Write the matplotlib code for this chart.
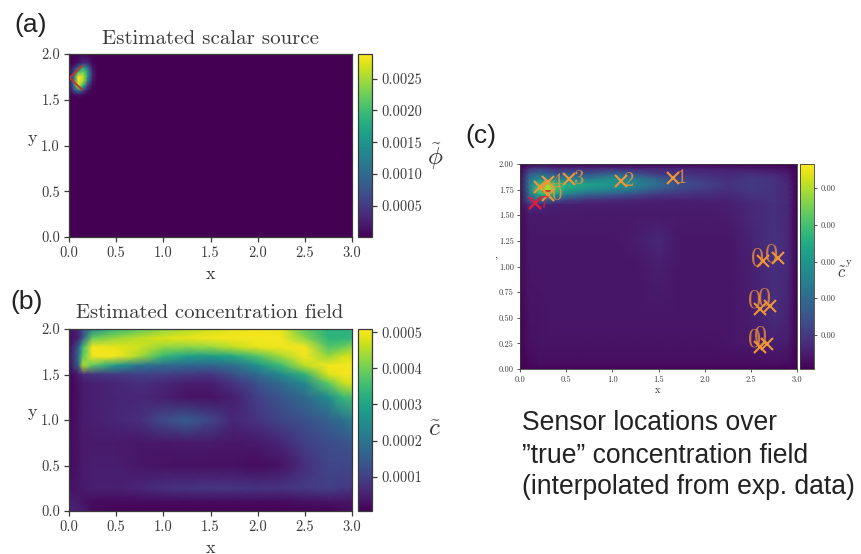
"""Three panel figure: estimated source, estimated field, sensor locations"""
import matplotlib
matplotlib.use('Agg')
import matplotlib.pyplot as plt
import numpy as np
from matplotlib.ticker import FixedLocator, FixedFormatter

plt.rcParams['font.family'] = ['cmr10', 'DejaVu Serif']
plt.rcParams['mathtext.fontset'] = 'cm'
plt.rcParams['axes.formatter.use_mathtext'] = True
plt.rcParams['axes.unicode_minus'] = False

W, H = 861, 554
INK = '#3a3a3a'
ORANGE = '#ee9638'

# panel (a): source, units of 1e-3
source_x = [0, 0.05, 0.1, 0.15, 0.2, 0.25, 0.3, 3.0]
source_y = [2.0, 1.9, 1.85, 1.8, 1.75, 1.7, 1.65, 1.6, 1.55, 1.5, 0.0]
source_vals = [
    [0.005, 0.005, 0.005, 0.005, 0.005, 0.005, 0.005, 0.005],
    [0.03, 0.05, 0.15, 0.35, 0.3, 0.05, 0.005, 0.005],
    [0.05, 0.25, 1.0, 1.7, 1.0, 0.15, 0.005, 0.005],
    [0.08, 0.6, 2.0, 2.3, 1.5, 0.25, 0.005, 0.005],
    [0.1, 1.0, 2.85, 2.6, 1.5, 0.25, 0.005, 0.005],
    [0.1, 1.1, 2.85, 2.5, 1.1, 0.15, 0.005, 0.005],
    [0.07, 1.0, 2.6, 1.8, 0.5, 0.07, 0.005, 0.005],
    [0.03, 0.55, 1.2, 0.6, 0.15, 0.005, 0.005, 0.005],
    [0.005, 0.07, 0.15, 0.07, 0.005, 0.005, 0.005, 0.005],
    [0.005, 0.005, 0.005, 0.005, 0.005, 0.005, 0.005, 0.005],
    [0.005, 0.005, 0.005, 0.005, 0.005, 0.005, 0.005, 0.005],
]
source_edge_x = [0.14, 0.007, 0.14]
source_edge_y = [1.87, 1.74, 1.61]

# panel (b): estimated concentration, units of 1e-4
field_x = [0, 0.1, 0.15, 0.25, 0.5, 0.75, 1.0, 1.25, 1.5, 1.75, 2.0, 2.25, 2.5, 2.75, 2.9, 3.0]
field_y = [2.0, 1.9, 1.8, 1.7, 1.6, 1.5, 1.4, 1.25, 1.0, 0.75, 0.5, 0.25, 0.1, 0.0]
field_vals = [
    [0.3, 0.6, 1.2, 2.4, 3.4, 3.8, 4.2, 4.5, 4.7, 4.9, 5.0, 4.9, 3.8, 3.3, 3.3, 3.3],
    [0.2, 0.5, 1.5, 3.9, 4.3, 4.6, 4.8, 4.9, 5.0, 5.0, 5.0, 5.0, 4.2, 3.3, 3.3, 3.4],
    [0.2, 1.5, 3.5, 5.0, 4.9, 4.7, 4.3, 4.2, 4.3, 4.6, 4.9, 5.0, 5.0, 3.7, 3.9, 4.2],
    [0.2, 1.8, 3.8, 5.0, 5.0, 4.4, 3.4, 2.9, 2.8, 3.1, 3.7, 4.4, 5.0, 4.3, 4.7, 4.8],
    [0.2, 1.7, 4.5, 3.8, 2.8, 2.0, 1.8, 1.7, 1.7, 1.9, 2.6, 3.5, 4.6, 5.0, 5.0, 5.0],
    [0.1, 0.4, 0.7, 0.8, 0.9, 1.0, 1.0, 0.9, 0.8, 1.3, 1.8, 2.4, 3.3, 4.8, 5.0, 5.0],
    [0.1, 0.3, 0.4, 0.5, 0.6, 0.7, 0.6, 0.45, 0.45, 0.8, 1.3, 1.8, 2.4, 3.8, 4.6, 4.8],
    [0.1, 0.3, 0.4, 0.5, 0.55, 0.6, 0.5, 0.3, 0.3, 0.5, 1.0, 1.4, 1.8, 2.5, 3.4, 3.6],
    [0.15, 0.3, 0.4, 0.5, 0.6, 0.7, 1.2, 1.5, 1.1, 0.6, 0.8, 1.1, 1.3, 1.6, 1.9, 2.2],
    [0.2, 0.3, 0.4, 0.4, 0.4, 0.35, 0.35, 0.4, 0.4, 0.35, 0.4, 0.6, 1.0, 1.2, 1.3, 1.4],
    [0.2, 0.3, 0.4, 0.45, 0.45, 0.35, 0.3, 0.25, 0.25, 0.25, 0.2, 0.3, 0.7, 1.1, 1.1, 1.1],
    [0.25, 0.35, 0.4, 0.5, 0.5, 0.6, 0.75, 0.8, 0.85, 0.85, 0.8, 0.8, 0.9, 1.0, 0.9, 0.9],
    [0.5, 0.4, 0.3, 0.2, 0.2, 0.2, 0.2, 0.2, 0.2, 0.2, 0.2, 0.2, 0.25, 0.3, 0.3, 0.3],
    [0.6, 0.5, 0.4, 0.2, 0.1, 0.1, 0.1, 0.1, 0.1, 0.1, 0.1, 0.1, 0.1, 0.1, 0.2, 0.2],
]

# panel (c): interpolated experimental field, arbitrary units (ticks all print 0.00)
true_x = [0, 0.1, 0.2, 0.3, 0.4, 0.5, 0.75, 1.0, 1.25, 1.5, 1.75, 2.0, 2.25, 2.5, 2.75, 2.9, 3.0]
true_y = [2.0, 1.95, 1.9, 1.85, 1.8, 1.75, 1.7, 1.65, 1.6, 1.5, 1.25, 1.0, 0.5, 0.25, 0.05, 0.0]
true_vals = [
    [0.1, 0.1, 0.1, 0.1, 0.1, 0.1, 0.1, 0.1, 0.1, 0.1, 0.1, 0.1, 0.1, 0.1, 0.1, 0.1, 0.1],
    [0.2, 0.9, 1.2, 1.0, 0.8, 0.9, 0.8, 0.9, 0.7, 0.7, 0.7, 0.6, 0.55, 0.5, 0.4, 0.3, 0.1],
    [0.2, 1.6, 2.0, 1.8, 1.5, 1.7, 1.5, 1.9, 1.5, 1.0, 0.9, 0.8, 0.7, 0.8, 0.7, 0.5, 0.1],
    [0.2, 2.1, 2.8, 2.7, 2.6, 2.6, 2.4, 2.9, 2.4, 1.8, 1.2, 1.0, 0.8, 1.0, 0.9, 0.6, 0.1],
    [0.2, 2.3, 3.6, 4.8, 3.8, 3.6, 3.2, 3.0, 2.6, 2.0, 1.4, 1.2, 0.9, 1.0, 0.9, 0.7, 0.1],
    [0.2, 2.3, 4.2, 5.2, 3.9, 3.3, 2.8, 2.6, 2.2, 1.6, 1.2, 1.0, 0.85, 1.0, 0.9, 0.7, 0.1],
    [0.2, 2.0, 3.4, 3.7, 3.0, 2.4, 1.8, 1.6, 1.3, 0.95, 0.9, 0.8, 0.7, 0.9, 0.9, 0.7, 0.1],
    [0.2, 1.7, 2.1, 1.8, 1.5, 1.2, 0.9, 0.8, 0.7, 0.6, 0.6, 0.6, 0.6, 0.8, 0.9, 0.7, 0.1],
    [0.2, 0.8, 0.7, 0.6, 0.55, 0.55, 0.5, 0.5, 0.5, 0.5, 0.5, 0.5, 0.55, 0.7, 0.85, 0.7, 0.1],
    [0.2, 0.45, 0.45, 0.45, 0.45, 0.45, 0.45, 0.45, 0.45, 0.45, 0.45, 0.45, 0.5, 0.7, 0.85, 0.7, 0.1],
    [0.2, 0.4, 0.4, 0.4, 0.4, 0.4, 0.4, 0.4, 0.5, 0.7, 0.4, 0.4, 0.4, 0.6, 0.9, 0.7, 0.1],
    [0.2, 0.4, 0.4, 0.4, 0.4, 0.4, 0.4, 0.4, 0.4, 0.55, 0.4, 0.4, 0.4, 0.55, 0.85, 0.7, 0.1],
    [0.15, 0.35, 0.35, 0.4, 0.4, 0.4, 0.4, 0.4, 0.4, 0.4, 0.4, 0.4, 0.4, 0.5, 0.75, 0.6, 0.1],
    [0.15, 0.3, 0.35, 0.35, 0.35, 0.35, 0.35, 0.35, 0.35, 0.35, 0.35, 0.35, 0.4, 0.45, 0.55, 0.5, 0.1],
    [0.1, 0.2, 0.25, 0.25, 0.25, 0.25, 0.25, 0.25, 0.25, 0.25, 0.25, 0.25, 0.25, 0.25, 0.3, 0.25, 0.1],
    [0.1, 0.1, 0.1, 0.1, 0.1, 0.1, 0.1, 0.1, 0.1, 0.1, 0.1, 0.1, 0.1, 0.1, 0.1, 0.1, 0.1],
]
true_edge_x = [0.25, 0.33]
true_edge_y = [1.74, 1.74]

# sensors
sensor_x = [1.655, 1.09, 0.534, 0.30, 0.30, 0.22, 2.63, 2.79, 2.60, 2.71, 2.60, 2.67]
sensor_y = [1.86, 1.83, 1.85, 1.82, 1.70, 1.78, 1.05, 1.086, 0.59, 0.61, 0.21, 0.24]
sensor_text = ['1', '2', '3', '4', '0', '', '0', '0', '0', '0', '0', '0']
red_sensor_x = [0.16]
red_sensor_y = [1.62]
red_sensor_text = ['7']

xticks_half = [0.0, 0.5, 1.0, 1.5, 2.0, 2.5, 3.0]
yticks_half = [0.0, 0.5, 1.0, 1.5, 2.0]
yticks_quarter = [0.0, 0.25, 0.5, 0.75, 1.0, 1.25, 1.5, 1.75, 2.0]
source_cticks = [0.5, 1.0, 1.5, 2.0, 2.5]
source_clabels = ['0.0005', '0.0010', '0.0015', '0.0020', '0.0025']
field_cticks = [1, 2, 3, 4, 5]
field_clabels = ['0.0001', '0.0002', '0.0003', '0.0004', '0.0005']
true_cticks = [1, 2, 3, 4, 5]
true_clabels = ['0.00', '0.00', '0.00', '0.00', '0.00']


def px_axes(fig, left, top, right, bottom):
    """axes from pixel edges, y counted from the top"""
    return fig.add_axes([left / W, 1 - bottom / H, (right - left) / W, (bottom - top) / H])


def px_text(fig, x, y, s, **kw):
    kw.setdefault('ha', 'center')
    kw.setdefault('va', 'center')
    kw.setdefault('color', INK)
    return fig.text(x / W, 1 - y / H, s, **kw)


def draw_panel(fig, box, cbox, xs, ys, vals, vmin, vmax, size, ctick, clabel, yticks, yfmt):
    ax = px_axes(fig, *box)
    mesh = ax.pcolormesh(xs, ys, np.array(vals), shading='gouraud', cmap='viridis',
                         vmin=vmin, vmax=vmax, rasterized=True)
    ax.set_xlim(0, 3)
    ax.set_ylim(0, 2)
    ax.set_xticks(xticks_half)
    ax.set_xticklabels(['%.1f' % v for v in xticks_half])
    ax.set_yticks(yticks)
    ax.set_yticklabels([yfmt % v for v in yticks])
    lw = 0.9 if size > 8 else 0.6
    ax.tick_params(labelsize=size, colors=INK, width=lw, length=3.5 if size > 8 else 2.5, pad=3 if size > 8 else 2)
    for s in ax.spines.values():
        s.set_color(INK)
        s.set_linewidth(lw)

    cax = px_axes(fig, *cbox)
    cb = fig.colorbar(mesh, cax=cax)
    cb.ax.yaxis.set_major_locator(FixedLocator(ctick))
    cb.ax.yaxis.set_major_formatter(FixedFormatter(clabel))
    cb.ax.minorticks_off()
    cb.ax.tick_params(labelsize=size, colors=INK, width=lw, length=3.5 if size > 8 else 2.5, pad=3 if size > 8 else 2)
    cb.outline.set_edgecolor(INK)
    cb.outline.set_linewidth(lw)
    return ax


fig = plt.figure(figsize=(W / 100, H / 100), dpi=100)

# (a)
ax_a = draw_panel(fig, (69, 54, 352, 237), (358, 54, 372, 237), source_x, source_y, source_vals,
                  0.005, 2.89, 10.4, source_cticks, source_clabels, yticks_half, '%.1f')
ax_a.plot(source_edge_x, source_edge_y, color='#c0392b', lw=1.3)
px_text(fig, 210, 39, 'Estimated scalar source', fontsize=15)
px_text(fig, 211, 274, 'x', fontsize=13)
px_text(fig, 32, 138, 'y', fontsize=13)
px_text(fig, 435, 157, r'$\tilde{\phi}$', fontsize=18)

# (b)
ax_b = draw_panel(fig, (69, 329, 352, 511), (358, 329, 372, 511), field_x, field_y, field_vals,
                  0.05, 5.09, 10.4, field_cticks, field_clabels, yticks_half, '%.1f')
px_text(fig, 210, 313, 'Estimated concentration field', fontsize=14.9)
px_text(fig, 211, 548, 'x', fontsize=13)
px_text(fig, 32, 412, 'y', fontsize=13)
px_text(fig, 435, 430, r'$\tilde{c}$', fontsize=18)

# (c)
ax_c = draw_panel(fig, (520, 164, 797, 369), (800, 164, 814, 369), true_x, true_y, true_vals,
                  0.073, 5.66, 6, true_cticks, true_clabels, yticks_quarter, '%.2f')
ax_c.plot(true_edge_x, true_edge_y, color='#c8281e', lw=1.2, zorder=4)
ax_c.plot(sensor_x, sensor_y, ls='none', marker='x', ms=8.5, mew=1.5, color=ORANGE, zorder=5)
ax_c.plot(red_sensor_x, red_sensor_y, ls='none', marker='x', ms=8.5, mew=1.7, color='#e8183a', zorder=5)
for x, y, t in zip(sensor_x, sensor_y, sensor_text):
    if x > 2:
        # zeros on the right hand side sit up and left of their marker
        ax_c.annotate(t, (x, y), xytext=(-4, 2 if y > 1 else 5.5), textcoords='offset points',
                      fontsize=19, color=ORANGE, alpha=0.75, ha='center', va='center', zorder=6)
    else:
        ax_c.annotate(t, (x, y), xytext=(2.5, 0), textcoords='offset points', fontsize=15,
                      color=ORANGE, alpha=0.8, ha='left', va='center', zorder=6)
for x, y, t in zip(red_sensor_x, red_sensor_y, red_sensor_text):
    ax_c.annotate(t, (x, y), xytext=(3.5, 0), textcoords='offset points', fontsize=13,
                  color='#e8183a', alpha=0.8, ha='left', va='center', zorder=6)
px_text(fig, 658, 390, 'x', fontsize=7.5)
px_text(fig, 848, 262, 'y', fontsize=7.5)
px_text(fig, 496, 262, "'", fontsize=8)
px_text(fig, 842, 273, r'$\tilde{c}$', fontsize=12)

# panel letters and caption
sans = ['Liberation Sans', 'DejaVu Sans']
px_text(fig, 31, 25, '(a)', fontsize=19, family=sans, color='#222222')
px_text(fig, 27, 302, '(b)', fontsize=19, family=sans, color='#222222')
px_text(fig, 481, 136, '(c)', fontsize=19, family=sans, color='#222222')
caption = ['Sensor locations over', '\u201dtrue\u201d concentration field', '(interpolated from exp. data)']
for y, line in zip([423, 456, 487], caption):
    px_text(fig, 522, y, line, fontsize=19.1, family=sans, ha='left', color='#222222')

fig.savefig('out.png', dpi=100)
